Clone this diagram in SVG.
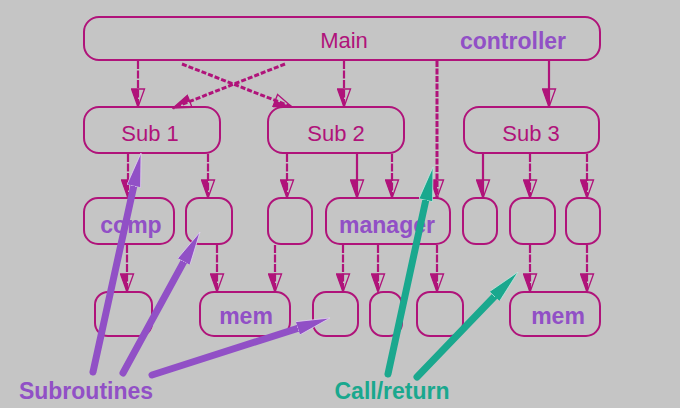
<svg xmlns="http://www.w3.org/2000/svg" width="680" height="408" viewBox="0 0 680 408">
<style>
.box{fill:none;stroke:#b0137a;stroke-width:2}
.lbl{font-family:"Liberation Sans",Arial,sans-serif;font-size:22px;fill:#b0137a;text-anchor:middle}
.bl{font-family:"Liberation Sans",Arial,sans-serif;font-size:23px;font-weight:bold;fill:#9150c6;text-anchor:middle}
.con{stroke:#b0137a;stroke-width:2.2;fill:none;marker-end:url(#mh)}
.dash{stroke-dasharray:8 1.5}
.x{stroke-width:3;stroke-dasharray:5 2}
.v{stroke-width:3;stroke-dasharray:6 1.5}
.pa{stroke:#9150c6;stroke-width:7;stroke-linecap:round;fill:none;marker-end:url(#ph)}
.ta{stroke:#1aa88e;stroke-width:7;stroke-linecap:round;fill:none;marker-end:url(#th)}
</style>
<defs>
<marker id="mh" viewBox="-1 -1 20 15" refX="18" refY="6.5" markerWidth="20" markerHeight="15" orient="auto" markerUnits="userSpaceOnUse">
<path d="M0,0 L18,6.5 L0,13 z" fill="none" stroke="#b0137a" stroke-width="1.3"/>
<path d="M0,6.5 L18,6.5 L0,13 L0,3 z" fill="#b0137a"/>
</marker>
<marker id="ph" viewBox="0 0 34 14" refX="10" refY="7" markerWidth="34" markerHeight="14" orient="auto" markerUnits="userSpaceOnUse">
<path d="M0,0 L34,7 L0,14 z" fill="#9150c6" stroke="#e4d4f2" stroke-width="0.7"/>
</marker>
<marker id="th" viewBox="0 0 34 14" refX="10" refY="7" markerWidth="34" markerHeight="14" orient="auto" markerUnits="userSpaceOnUse">
<path d="M0,0 L34,7 L0,14 z" fill="#1aa88e" stroke="#c8ece4" stroke-width="0.7"/>
</marker>
</defs>
<rect width="680" height="408" fill="#c5c5c5"/>

<g id="main"><rect class="box" x="84" y="17" width="516" height="43" rx="15"/><text class="lbl" x="344" y="48">Main</text><text class="bl" x="513" y="49">controller</text></g>
<g id="sub1"><rect class="box" x="84" y="107" width="136" height="46" rx="15"/><text class="lbl" x="150" y="141">Sub 1</text></g>
<g id="sub2"><rect class="box" x="268" y="107" width="136" height="46" rx="15"/><text class="lbl" x="336" y="141">Sub 2</text></g>
<g id="sub3"><rect class="box" x="464" y="107" width="135" height="46" rx="15"/><text class="lbl" x="531" y="141">Sub 3</text></g>

<g id="comp"><rect class="box" x="84" y="198" width="90" height="46" rx="14"/><text class="bl" x="131" y="233">comp</text></g>
<g id="r2b"><rect class="box" x="186" y="198" width="46" height="46" rx="13"/></g>
<g id="r2c"><rect class="box" x="268" y="198" width="44" height="46" rx="13"/></g>
<g id="manager"><rect class="box" x="326" y="198" width="124" height="46" rx="14"/><text class="bl" x="387" y="233">manager</text></g>
<g id="r2e"><rect class="box" x="463" y="198" width="34" height="46" rx="13"/></g>
<g id="r2f"><rect class="box" x="510" y="198" width="45" height="46" rx="13"/></g>
<g id="r2g"><rect class="box" x="566" y="198" width="34" height="46" rx="13"/></g>

<g id="r3a"><rect class="box" x="95" y="292" width="57" height="44" rx="13"/></g>
<g id="mem1"><rect class="box" x="200" y="292" width="90" height="44" rx="14"/><text class="bl" x="246" y="324">mem</text></g>
<g id="r3c"><rect class="box" x="313" y="292" width="45" height="44" rx="13"/></g>
<g id="r3d"><rect class="box" x="370" y="292" width="32" height="44" rx="13"/></g>
<g id="r3e"><rect class="box" x="417" y="292" width="46" height="44" rx="13"/></g>
<g id="mem2"><rect class="box" x="510" y="292" width="90" height="44" rx="14"/><text class="bl" x="558" y="324">mem</text></g>

<g id="connectors">
<line class="con dash" x1="138" y1="61" x2="138" y2="107"/>
<line class="con dash" x1="344" y1="61" x2="344" y2="107"/>
<line class="con" x1="549" y1="61" x2="549" y2="107"/>
<line class="con x" x1="182" y1="64" x2="292" y2="107"/>
<line class="con x" x1="285" y1="64" x2="173" y2="108"/>
<line class="con v" x1="437" y1="61" x2="437" y2="198"/>

<line class="con dash" x1="128" y1="154" x2="128" y2="198"/>
<line class="con dash" x1="208" y1="154" x2="208" y2="198"/>
<line class="con dash" x1="287" y1="154" x2="287" y2="198"/>
<line class="con" x1="357" y1="154" x2="357" y2="198"/>
<line class="con dash" x1="392" y1="154" x2="392" y2="198"/>
<line class="con" x1="483" y1="154" x2="483" y2="198"/>
<line class="con dash" x1="530" y1="154" x2="530" y2="198"/>
<line class="con dash" x1="587" y1="154" x2="587" y2="198"/>

<line class="con dash" x1="127" y1="245" x2="127" y2="292"/>
<line class="con dash" x1="217" y1="245" x2="217" y2="292"/>
<line class="con dash" x1="275" y1="245" x2="275" y2="292"/>
<line class="con dash" x1="343" y1="245" x2="343" y2="292"/>
<line class="con dash" x1="378" y1="245" x2="378" y2="292"/>
<line class="con dash" x1="437" y1="245" x2="437" y2="292"/>
<line class="con dash" x1="530" y1="245" x2="530" y2="292"/>
<line class="con dash" x1="587" y1="245" x2="587" y2="292"/>
</g>

<g id="callouts">
<line class="pa" x1="93" y1="372" x2="135.9" y2="176.4"/>
<line class="pa" x1="123" y1="373" x2="188.5" y2="253.1"/>
<line class="pa" x1="152" y1="375" x2="307.1" y2="325.3"/>
<line class="ta" x1="388" y1="374" x2="427.9" y2="190.5"/>
<line class="ta" x1="417" y1="377" x2="501.4" y2="289.3"/>
</g>

<g id="subroutines"><text class="bl" x="86" y="399" style="fill:#9150c6">Subroutines</text></g>
<g id="callreturn"><text class="bl" x="392" y="399" style="fill:#1aa88e">Call/return</text></g>
</svg>
